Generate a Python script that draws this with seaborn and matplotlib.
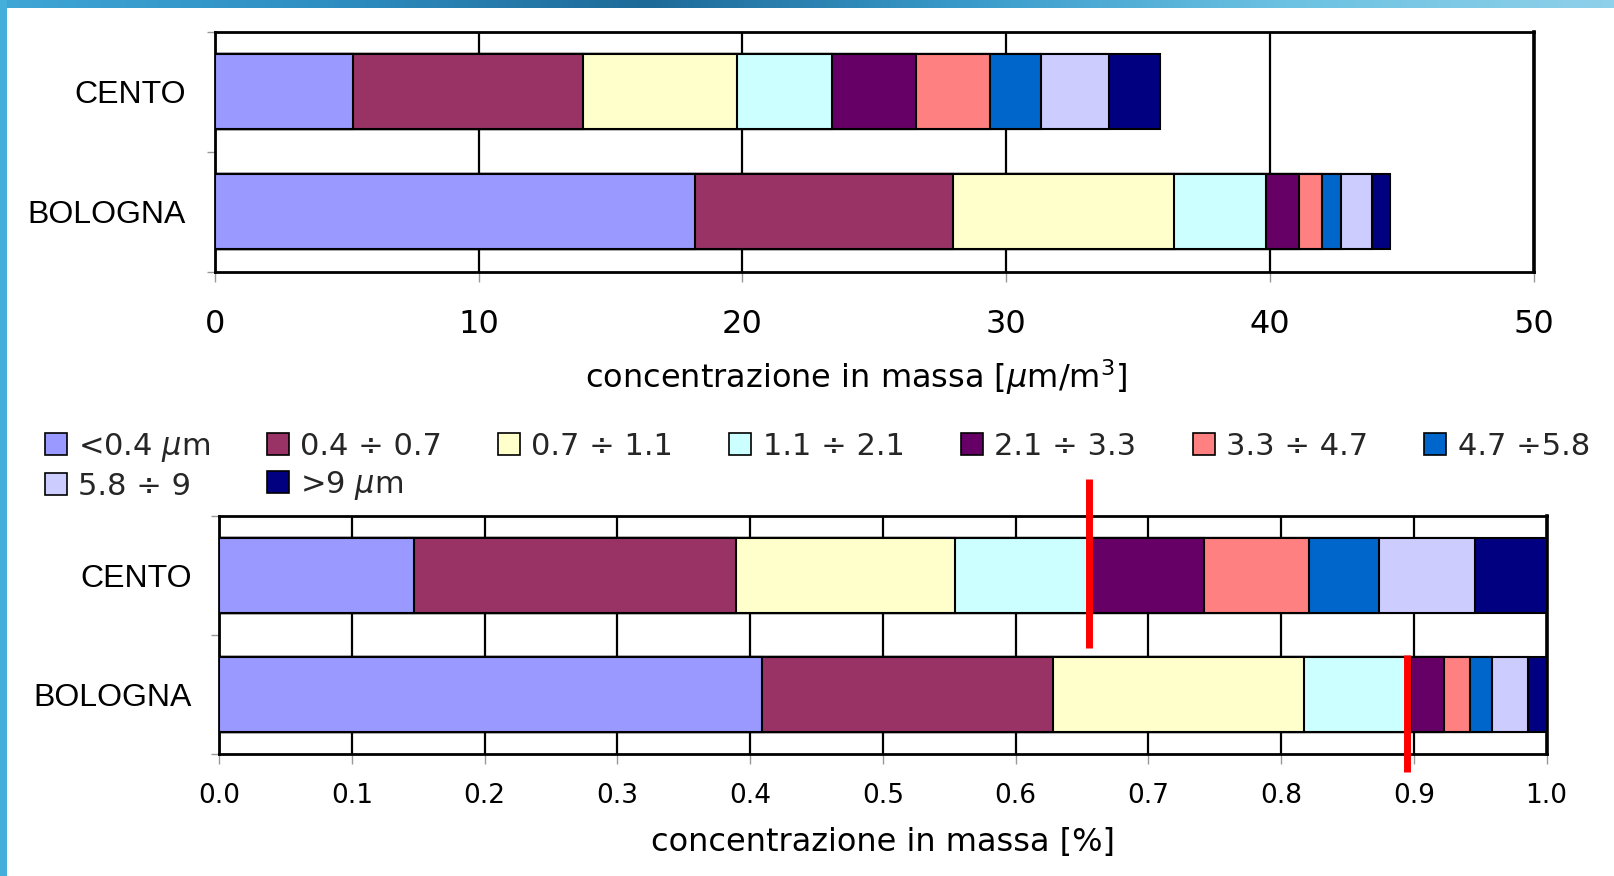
import numpy as np
import matplotlib
matplotlib.use('Agg')
import matplotlib.pyplot as plt
import matplotlib.patches as mpatches
from matplotlib.colors import LinearSegmentedColormap
import seaborn as sns

# data
sites = ['CENTO', 'BOLOGNA']
size_classes = ['<0.4 $\\mu$m', '0.4 ÷ 0.7', '0.7 ÷ 1.1', '1.1 ÷ 2.1', '2.1 ÷ 3.3',
                '3.3 ÷ 4.7', '4.7 ÷5.8', '5.8 ÷ 9', '>9 $\\mu$m']
class_colors = ['#9999FF', '#993366', '#FFFFCC', '#CCFFFF', '#660066',
                '#FF8080', '#0066CC', '#CCCCFF', '#000080']

# mass concentration per class [um/m3]
cento_conc = [5.24, 8.70, 5.85, 3.61, 3.17, 2.81, 1.93, 2.58, 1.93]
bologna_conc = [18.22, 9.76, 8.36, 3.52, 1.25, 0.85, 0.74, 1.17, 0.67]

# mass fraction per class
cento_frac = [0.147, 0.242, 0.165, 0.101, 0.087, 0.079, 0.053, 0.072, 0.054]
bologna_frac = [0.409, 0.219, 0.189, 0.081, 0.025, 0.019, 0.017, 0.027, 0.014]

conc_ticks = [0, 10, 20, 30, 40, 50]
frac_ticks = [0.0, 0.1, 0.2, 0.3, 0.4, 0.5, 0.6, 0.7, 0.8, 0.9, 1.0]

# red marker lines on the % chart (x value, y from, y to)
red_marks = [(0.655, -0.81, 0.61), (0.895, 0.67, 1.65)]

sns.set_theme(style='white')
plt.rcParams['font.family'] = ['DejaVu Sans']

W, H = 1615, 876
fig = plt.figure(figsize=(W / 100, H / 100), dpi=100)
fig.patch.set_facecolor('white')

# slide border: blue strip on top and left
top_ax = fig.add_axes([0, 1 - 8 / H, 1, 8 / H])
grad = np.linspace(0, 1, 256).reshape(1, -1)
slide_cmap = LinearSegmentedColormap.from_list(
    'slide', ['#3fa6d6', '#2f8fc2', '#1d6a98', '#3a9bcb', '#6cc2e2', '#8fd0ea'])
top_ax.imshow(grad, aspect='auto', cmap=slide_cmap)
top_ax.axis('off')
fig.patches.append(mpatches.Rectangle((0, 0), 7 / W, 1, transform=fig.transFigure,
                                      facecolor='#45afdc', edgecolor='none'))


def draw_stack(ax, cento, bologna):
    cum_c = np.cumsum(cento)
    cum_b = np.cumsum(bologna)
    for i in reversed(range(len(size_classes))):
        sns.barplot(x=[cum_c[i], cum_b[i]], y=sites, color=class_colors[i], saturation=1,
                    width=0.63, edgecolor='black', linewidth=1.5, orient='h', ax=ax, zorder=3)


def style_axis(ax, ticks, tick_size, tick_pad, ylab_pad):
    ax.set_ylim(1.5, -0.5)
    ax.set_xlim(ticks[0], ticks[-1])
    ax.set_xticks(ticks)
    ax.set_axisbelow(True)
    ax.grid(axis='x', color='black', linewidth=1.6)
    ax.grid(axis='y', visible=False)
    for side in ['top', 'right', 'left', 'bottom']:
        ax.spines[side].set_visible(True)
        ax.spines[side].set_color('black')
        ax.spines[side].set_linewidth(2)
    ax.spines['right'].set_linewidth(2.6)
    ax.tick_params(axis='x', which='major', bottom=True, length=7, width=1, color='#999999',
                   labelsize=tick_size, pad=tick_pad, labelcolor='black')
    ax.tick_params(axis='y', which='major', left=False, length=0, pad=ylab_pad)
    ax.set_yticks([-0.5, 0.5, 1.5], minor=True)
    ax.tick_params(axis='y', which='minor', left=True, length=6, width=1, color='#999999')
    for lab in ax.get_yticklabels():
        lab.set_fontfamily(['Liberation Sans', 'DejaVu Sans'])
        lab.set_fontsize(23)
        lab.set_color('black')
    ax.set_ylabel('')


# top chart: absolute concentration
ax1 = fig.add_axes([214.7 / W, 1 - 271.7 / H, 1319.3 / W, 240 / H])
draw_stack(ax1, cento_conc, bologna_conc)
style_axis(ax1, conc_ticks, 23, 20, 21)
ax1.set_xticklabels([str(t) for t in conc_ticks])
ax1.set_xlabel('concentrazione in massa [$\\mu$m/m$^3$]', fontsize=23, color='black')
ax1.xaxis.set_label_coords(0.486, -0.44)
ax1.xaxis.label.set_va('center')

# bottom chart: mass fraction
ax2 = fig.add_axes([219.2 / W, 1 - 754 / H, 1327.4 / W, 238.5 / H])
draw_stack(ax2, cento_frac, bologna_frac)
style_axis(ax2, frac_ticks, 19, 14, 20)
ax2.set_xticklabels([f'{t:.1f}' for t in frac_ticks])
ax2.set_xlabel('concentrazione in massa [%]', fontsize=23, color='black')
ax2.xaxis.set_label_coords(0.5, -0.371)
ax2.xaxis.label.set_va('center')

for x, y0, y1 in red_marks:
    ax2.plot([x, x], [y0, y1], color='#ff0000', linewidth=5, solid_capstyle='butt',
             clip_on=False, zorder=10)

# legend between the two charts, filled row by row (7 on the first row)
handles = [mpatches.Patch(facecolor=c, edgecolor='black', linewidth=1.2, label=l)
           for c, l in zip(class_colors, size_classes)]
order = [0, 7, 1, 8, 2, 3, 4, 5, 6]
fig.legend(handles=[handles[i] for i in order], loc='upper left',
           bbox_to_anchor=(45 / W, 1 - 431 / H),
           ncol=7, frameon=False, fontsize=22, handlelength=0.72, handleheight=0.72,
           handletextpad=0.37, columnspacing=1.84, labelspacing=0.25, borderpad=0,
           borderaxespad=0)

fig.savefig('out.png', dpi=100, facecolor='white')
